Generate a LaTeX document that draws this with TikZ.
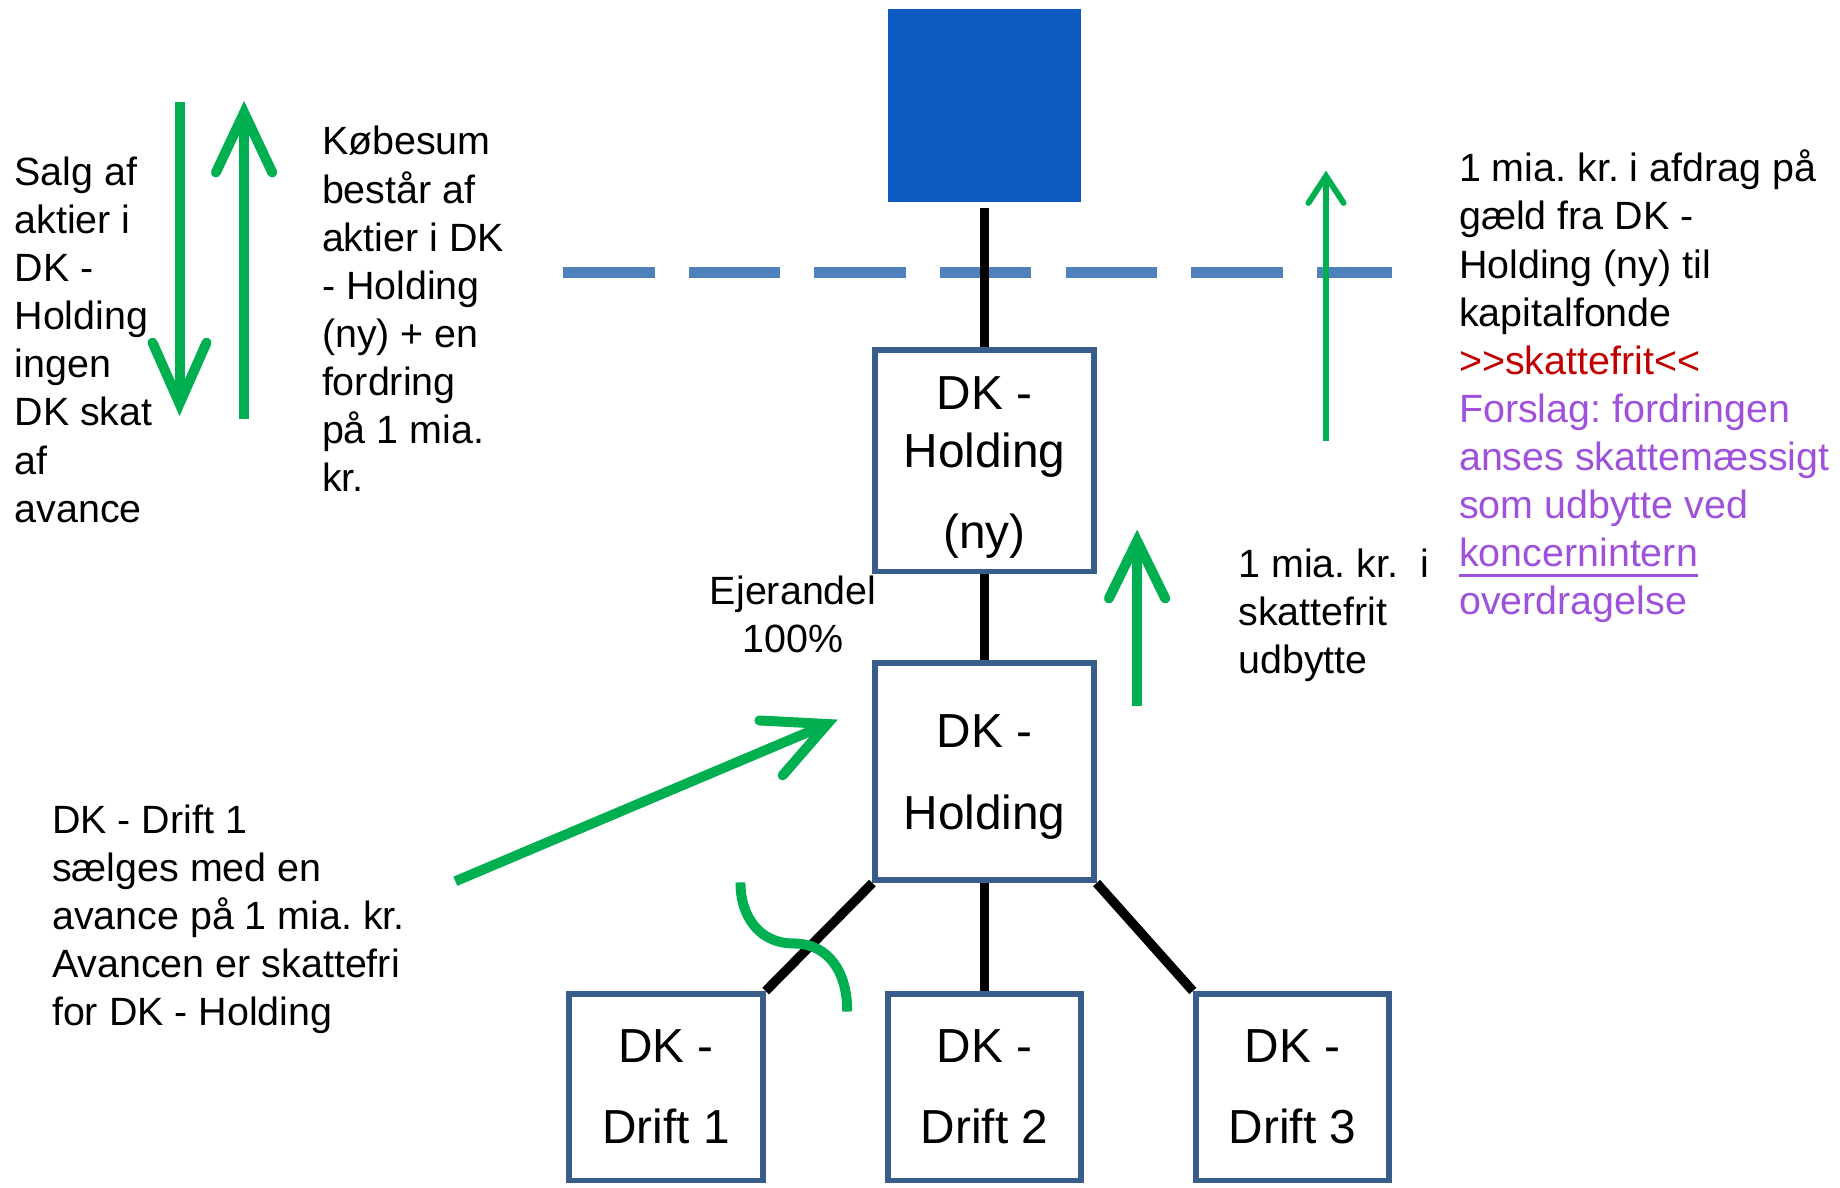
\documentclass[tikz,border=0pt]{standalone}
\usepackage{fontspec}
\setmainfont{Liberation Sans}
\usetikzlibrary{calc,backgrounds}
\definecolor{grn}{RGB}{0,176,80}
\definecolor{bord}{RGB}{56,93,138}
\definecolor{dashc}{RGB}{79,129,189}
\definecolor{topblue}{RGB}{13,91,192}
\definecolor{redc}{RGB}{192,0,0}
\definecolor{purp}{RGB}{158,82,219}
\newcommand\mysmall{\fontsize{16.8pt}{20.5pt}\selectfont\frenchspacing}
\newcommand\mybox{\fontsize{20.35pt}{25pt}\selectfont}
\newcommand\myul[1]{\setbox0\hbox{#1}\rlap{\rule[-4.2pt]{\wd0}{1.2pt}}\box0}
\begin{document}
\begin{tikzpicture}[x=0.5pt,y=0.5pt,
  box/.style={draw=bord, line width=2.5pt, fill=white, inner sep=0pt, align=center, font=\mybox},
  txt/.style={inner sep=0pt, align=left, font=\mysmall, anchor=base west},
  conn/.style={draw=black, line width=4pt},
  gline/.style={draw=grn, line width=4.25pt},
  ghead/.style={draw=grn, line width=4.25pt, line cap=round, line join=miter},
  gthin/.style={draw=grn, line width=2.5pt},
  gthinhead/.style={draw=grn, line width=2.5pt, line cap=round, line join=miter},
  dashl/.style={draw=dashc, line width=4.75pt, dash pattern=on 39pt off 14.5pt}]
\useasboundingbox (0,0) rectangle (1568,1012);

% boxes
\node[fill=topblue, minimum width=82pt, minimum height=82pt, inner sep=0pt] (top) at (839,922) {};
\node[box, minimum width=93pt, minimum height=94.5pt] (hny) at (839,619.5) {\rule{0pt}{19.8pt}DK -\\Holding\\[9.5pt](ny)};
\node[box, minimum width=93pt, minimum height=92.5pt] (h) at (839,354.5) {\rule{0pt}{18.8pt}DK -\\[10pt]Holding};
\node[box, minimum width=82.5pt, minimum height=79.5pt] (d1) at (567.5,85.5) {DK -\\[9.5pt]Drift 1};
\node[box, minimum width=82pt, minimum height=79.5pt] (d2) at (839,85.5) {DK -\\[9.5pt]Drift 2};
\node[box, minimum width=82.5pt, minimum height=79.5pt] (d3) at (1101.5,85.5) {DK -\\[9.5pt]Drift 3};

% dashed boundary and connectors
\coordinate (dl) at (480,780);
\coordinate (dr) at (1186,780);
\begin{pgfonlayer}{background}
\draw[dashl] (dl) -- (dr);
\draw[conn, shorten <=2.5pt] (top.south) -- (hny.north);
\draw[conn] (hny.south) -- (h.north);
\draw[conn] (h.south west) -- (d1.north east);
\draw[conn] (h.south) -- (d2.north);
\draw[conn] (h.south east) -- (d3.north west);
\end{pgfonlayer}

% texts (anchored at the baseline of the last line)
\node[txt] (salg) at (12,567) {Salg af\\aktier i\\DK -\\Holding\\ingen\\DK skat\\af\\avance};
\node[txt] (kob) at (274,593) {Købesum\\består af\\aktier i DK\\- Holding\\(ny) + en\\fordring\\på 1 mia.\\kr.};
\node[txt] (afdrag) at (1243,488) {1 mia. kr. i afdrag på\\gæld fra DK -\\Holding (ny) til\\kapitalfonde\\\textcolor{redc}{>{}>skattefrit<{}<}\\\textcolor{purp}{Forslag: fordringen}\\\textcolor{purp}{anses skattemæssigt}\\\textcolor{purp}{som udbytte ved}\\\textcolor{purp}{\myul{koncernintern}}\\\textcolor{purp}{overdragelse}};
\node[txt] (udb) at (1055,438) {1 mia. kr.\ \ i\\skattefrit\\udbytte};
\node[txt, align=center, anchor=base] (ej) at (676,456) {Ejerandel\\100\%};
\node[txt] (drift) at (44,138) {DK - Drift 1\\sælges med en\\avance på 1 mia. kr.\\Avancen er skattefri\\for DK - Holding};

% green arrows
\coordinate (aS) at (153,925);
\coordinate (aT) at (153,668);
\draw[gline] (aS) -- (aT);
\draw[ghead] (130,720) -- (aT) -- (176,720);

\coordinate (bS) at (208,655);
\coordinate (bT) at (208,916);
\draw[gline] (bS) -- (bT);
\draw[ghead] (184,865) -- (bT) -- (232,865);

\coordinate (cS) at (969,410);
\coordinate (cT) at (969,551);
\draw[gline] (cS) -- (cT);
\draw[ghead] (945,502) -- (cT) -- (993,502);

\coordinate (eS) at (1130,636);
\coordinate (eT) at (1130,862);
\draw[gthin] (eS) -- (eT);
\draw[gthinhead] (1115,839) -- (eT) -- (1145,839);

\coordinate (fS) at (388,261);
\coordinate (fT) at (705,395);
\draw[gline] (fS) -- (fT);
\draw[ghead] ($(fT)+(177:58)$) -- (fT) -- ($(fT)+(229:58)$);

% curved mark on Drift 1 line
\coordinate (sA) at (631,260);
\coordinate (sM) at (676,208);
\coordinate (sB) at (722,150);
\draw[gline] (sA) .. controls (631,230) and (648,208) .. (sM) .. controls (706,208) and (722,184) .. (sB);
\end{tikzpicture}
\end{document}
